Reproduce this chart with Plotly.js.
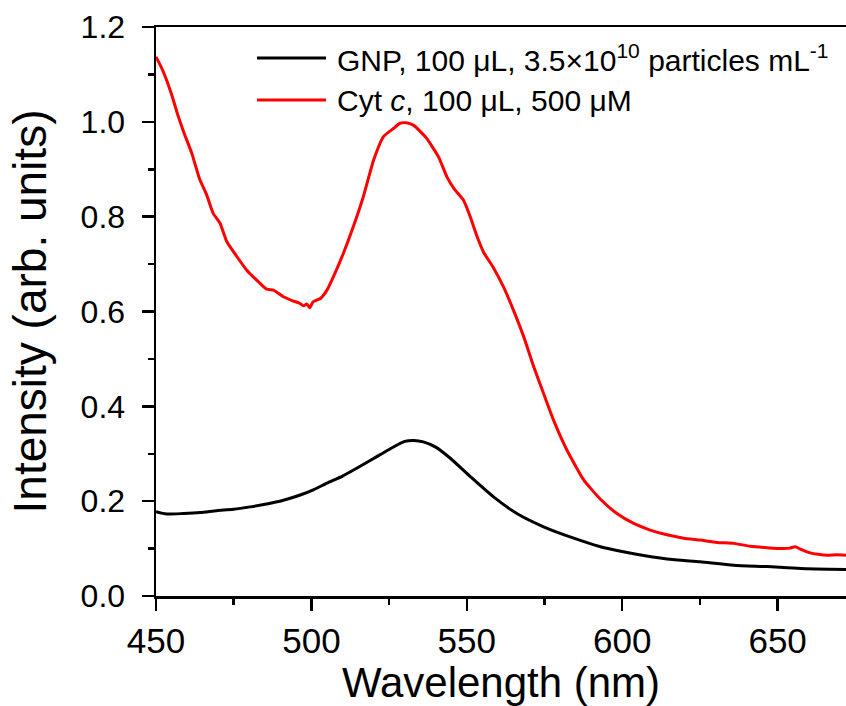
<!DOCTYPE html>
<html>
<head>
<meta charset="utf-8">
<script src="https://cdn.plot.ly/plotly-3.0.1.min.js"></script>
<style>html,body{margin:0;padding:0;background:#fff;}#chart{width:846px;height:706px;}</style>
</head>
<body>
<div id="chart"></div>
<script>
// Cyt c, 100 uL, 500 uM (red)
const cytWavelength = [450,451.5,453,455,457,459,461.5,464,466.3,468.4,470.6,472.8,476,479.2,482.4,485.6,487.8,491,494.2,496,497.5,498.5,499.5,500.5,501.7,503,505,507.6,510.3,513.5,516.7,520,523.2,526.4,528.5,530.5,532.8,535,537.1,540.9,543.6,546,548.9,551.1,553.3,555.4,558.6,561.8,565,568.3,571.5,574.7,577.9,582.2,587.6,593,598.3,603.7,609,614.4,619.8,625.1,630.5,635.9,641.2,646.6,651.9,654,655.7,657.3,660.5,663,666,669,672];
const cytIntensity = [1.137,1.118,1.095,1.058,1.015,0.977,0.934,0.880,0.846,0.807,0.786,0.747,0.716,0.687,0.666,0.647,0.645,0.631,0.622,0.618,0.612,0.616,0.608,0.620,0.624,0.628,0.645,0.681,0.723,0.779,0.842,0.919,0.969,0.986,0.997,0.998,0.993,0.980,0.965,0.926,0.884,0.858,0.835,0.800,0.758,0.725,0.692,0.652,0.603,0.547,0.484,0.427,0.371,0.308,0.245,0.204,0.174,0.153,0.139,0.129,0.122,0.118,0.113,0.111,0.105,0.102,0.100,0.101,0.104,0.099,0.091,0.088,0.086,0.087,0.086];

// GNP, 100 uL, 3.5x10^10 particles mL^-1 (black)
const gnpWavelength = [450,453.4,458.8,464.2,469.5,474.9,480.3,485.6,491,496.4,500.6,505,510,515,520,525,530,533,536,540,544.6,551.1,558.6,566.1,574.7,584.4,593,598.3,603.7,614.4,625.1,635.9,646.6,657.3,672];
const gnpIntensity = [0.178,0.173,0.174,0.176,0.180,0.183,0.188,0.194,0.202,0.213,0.224,0.238,0.253,0.271,0.290,0.309,0.326,0.328,0.325,0.314,0.291,0.252,0.209,0.174,0.146,0.122,0.104,0.096,0.089,0.078,0.072,0.065,0.062,0.058,0.056];

const seriesNames = ["GNP, 100 μL, 3.5×10<sup>10</sup> particles mL<sup>-1</sup>", "Cyt <i>c</i>, 100 μL, 500 μM"];
const seriesColors = ["#000000", "#ff0000"];
const xTitle = "Wavelength (nm)";
const yTitle = "Intensity (arb. units)";

const FONT = "Liberation Sans, Arial, Helvetica, sans-serif";

const traces = [
  {x: gnpWavelength, y: gnpIntensity, mode: "lines", name: seriesNames[0], line: {color: seriesColors[0], width: 3, shape: "spline", smoothing: 0.6}, showlegend: false},
  {x: cytWavelength, y: cytIntensity, mode: "lines", name: seriesNames[1], line: {color: seriesColors[1], width: 3, shape: "spline", smoothing: 0.5}, showlegend: false}
];

// legend drawn in paper coordinates
const legY = [0.9455, 0.8717];
const shapes = [];
const annotations = [];
for (let i = 0; i < 2; i++) {
  shapes.push({type: "line", xref: "paper", yref: "paper", x0: 0.1464, x1: 0.2464, y0: legY[i], y1: legY[i], line: {color: seriesColors[i], width: 3}});
  annotations.push({xref: "paper", yref: "paper", x: 0.2594, y: legY[i], xanchor: "left", yanchor: "middle", showarrow: false, text: seriesNames[i], font: {family: FONT, size: 30, color: "#000"}});
}

const layout = {
  width: 846, height: 706,
  margin: {l: 156, r: 0, t: 27, b: 110, pad: 0},
  paper_bgcolor: "#fff", plot_bgcolor: "#fff",
  font: {family: FONT, color: "#000"},
  showlegend: false,
  xaxis: {
    range: [450, 672], tick0: 450, dtick: 50,
    showgrid: false, zeroline: false,
    showline: true, linecolor: "#000", linewidth: 2.5, mirror: true,
    ticks: "outside", ticklen: 12, tickwidth: 2.5, tickcolor: "#000",
    minor: {dtick: 25, tick0: 450, ticks: "outside", ticklen: 6, tickwidth: 2.5, tickcolor: "#000", showgrid: false},
    tickfont: {family: FONT, size: 35, color: "#000"},
    title: {text: xTitle, font: {family: FONT, size: 42, color: "#000"}, standoff: 8}
  },
  yaxis: {
    range: [0, 1.2], tick0: 0, dtick: 0.2, tickformat: ".1f",
    showgrid: false, zeroline: false,
    showline: true, linecolor: "#000", linewidth: 2.5,
    ticks: "outside", ticklen: 12, tickwidth: 2.5, tickcolor: "#000",
    minor: {dtick: 0.1, ticks: "outside", ticklen: 6, tickwidth: 2.5, tickcolor: "#000", showgrid: false},
    ticklabelstandoff: 10,
    tickfont: {family: FONT, size: 32, color: "#000"},
    title: {text: yTitle, font: {family: FONT, size: 46, color: "#000"}, standoff: 20}
  },
  shapes: shapes,
  annotations: annotations
};

Plotly.newPlot("chart", traces, layout, {displayModeBar: false, staticPlot: true});
</script>
</body>
</html>
